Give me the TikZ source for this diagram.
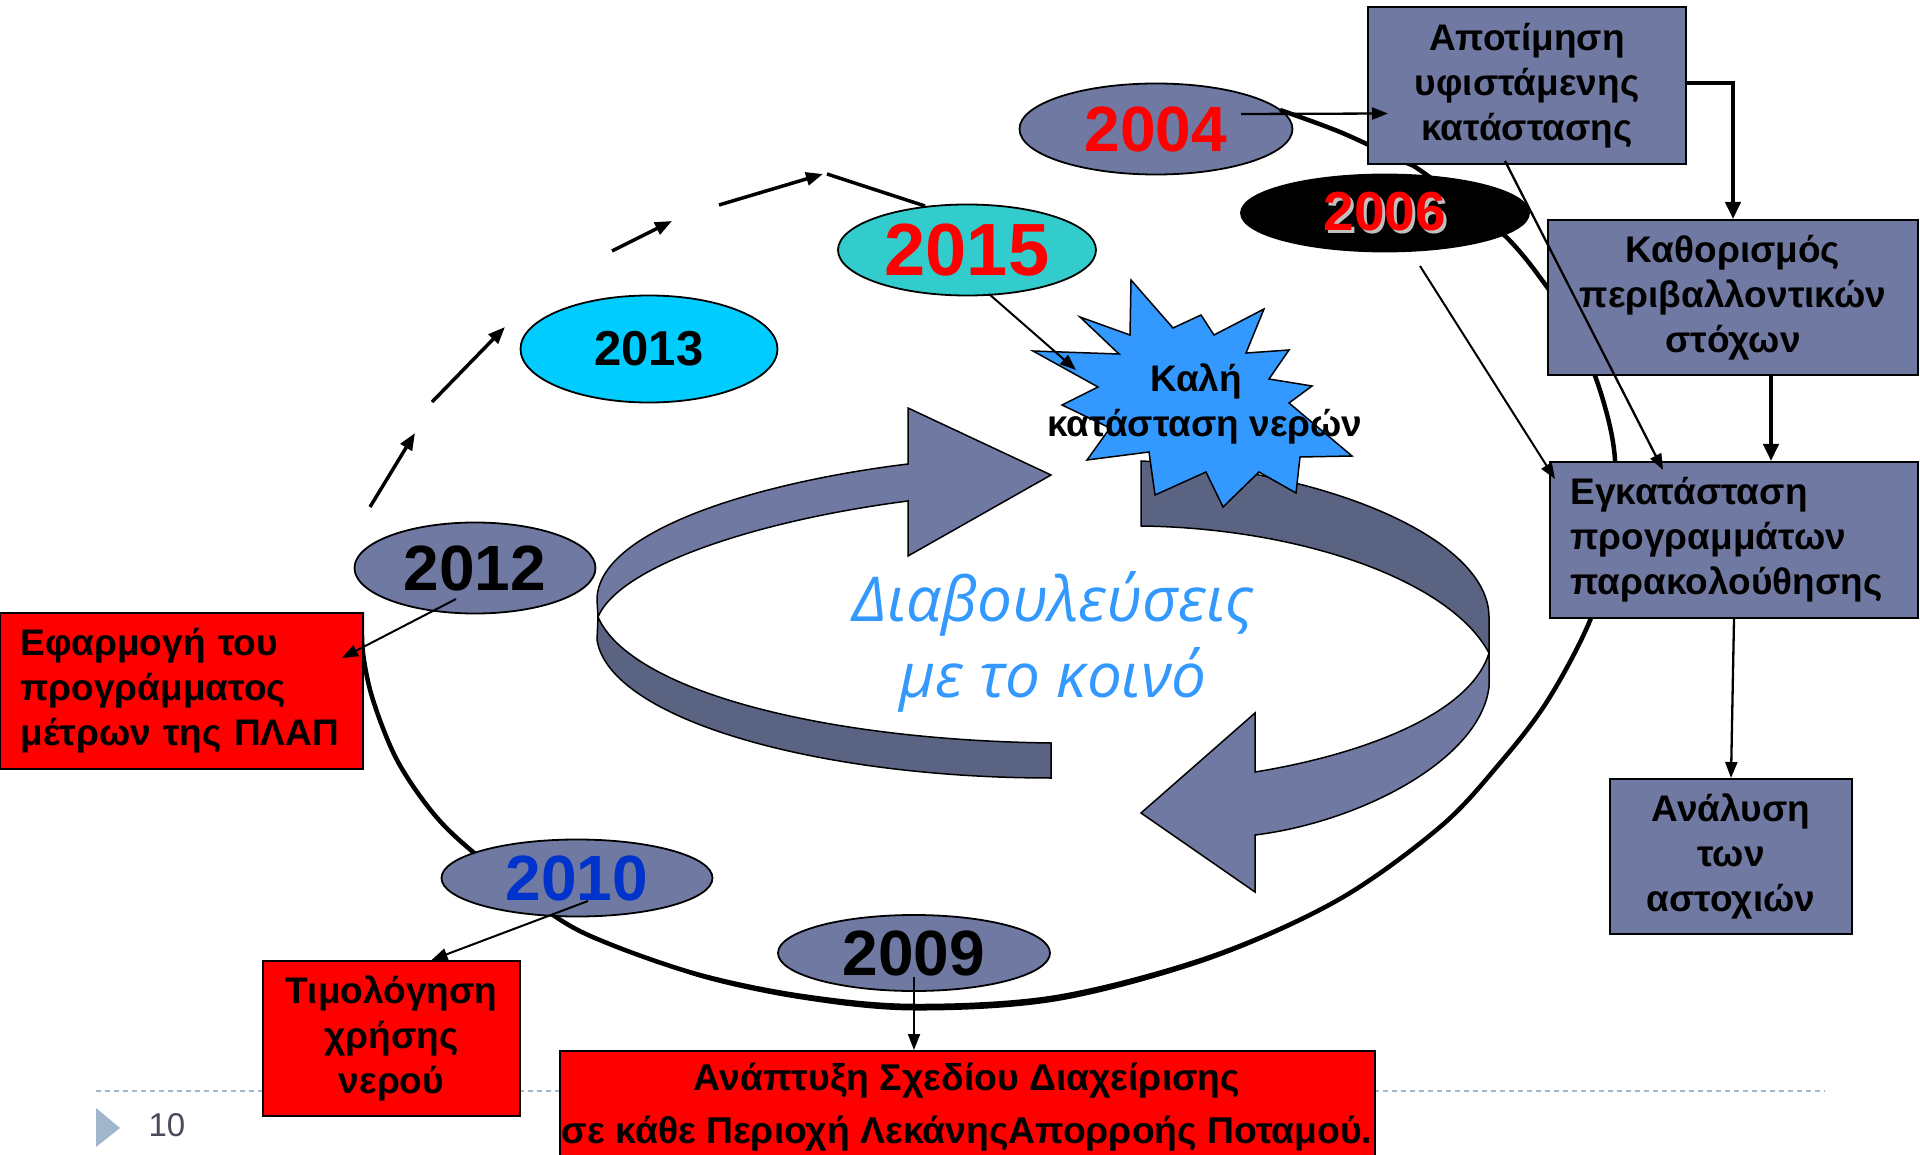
\documentclass[tikz,border=0pt]{standalone}
\usepackage{fontspec}
\setmainfont{Liberation Sans}
\newfontfamily\opensans{Open Sans}
\usetikzlibrary{arrows.meta,shapes.geometric}
\definecolor{slate}{RGB}{112,121,161}
\definecolor{slatedark}{RGB}{90,99,129}
\definecolor{tealc}{RGB}{51,204,204}
\definecolor{cyanc}{RGB}{0,204,255}
\definecolor{starblue}{RGB}{51,153,255}
\definecolor{yearblue}{RGB}{0,51,204}
\definecolor{footblue}{RGB}{160,182,204}
\definecolor{footgray}{RGB}{74,74,90}
\begin{document}
\begin{tikzpicture}[x=1pt,y=-1pt,
  gbox/.style={draw=black, line width=2pt, fill=slate, inner sep=0pt, align=center,
    font=\fontsize{37}{45}\selectfont\bfseries},
  yr/.style={ellipse, draw=black, line width=1.8pt, inner sep=0pt,
    font=\fontsize{64}{64}\selectfont\bfseries},
  conn/.style={-{Triangle[length=16pt,width=12pt]}, line width=2.3pt},
  thickconn/.style={-{Triangle[length=17pt,width=15pt]}, line width=4pt},
  uparr/.style={-{Triangle[length=17pt,width=13pt]}, line width=3.5pt},
  ribbon/.style={draw=black, line width=1.5pt}]
\useasboundingbox (0,0) rectangle (1920,1155);
\fill[white] (0,0) rectangle (1920,1155);

% footer
\draw[footblue, line width=2.5pt, dash pattern=on 5pt off 4pt] (96,1091) -- (1825,1091);
\fill[footblue] (96,1108) -- (120,1128) -- (96,1147) -- cycle;
\node[font=\fontsize{33}{33}\selectfont, text=footgray] (pg) at (167,1125) {10};

% big circular arrow A (upper, pointing right)
\draw[ribbon, fill=slatedark] (598,617) .. controls (630,690) and (820,740) .. (1051,743)
  -- (1051,778) .. controls (820,778) and (610,720) .. (597,640) -- cycle;
\draw[ribbon, fill=slate] (908,464) .. controls (760,482) and (597,530) .. (597,600)
  -- (598,617) .. controls (620,565) and (760,520) .. (908,501)
  -- (908,556) -- (1051,475) -- (908,408) -- cycle;
% big circular arrow B (lower, pointing left)
\draw[ribbon, fill=slatedark] (1141,461) .. controls (1330,470) and (1489,540) .. (1489,617)
  -- (1489,653) .. controls (1450,580) and (1300,528) .. (1141,526) -- cycle;
\draw[ribbon, fill=slate] (1489,653) -- (1489,687) .. controls (1480,760) and (1360,822) .. (1255,835)
  -- (1255,892) -- (1141,813) -- (1255,713) -- (1255,772)
  .. controls (1360,755) and (1470,715) .. (1489,653) -- cycle;

\node[font=\opensans\itshape\fontsize{62}{76}\selectfont, text=starblue, align=center] (dia)
  at (1053,642) {Διαβουλεύσεις\\με το κοινό};

% chain of arrows from 2012 towards 2015
\coordinate (u1a) at (370,507); \coordinate (u1b) at (415,433);
\coordinate (u2a) at (432,402); \coordinate (u2b) at (505,327);
\coordinate (u3a) at (612,251); \coordinate (u3b) at (672,221);
\coordinate (u4a) at (719,205); \coordinate (u4b) at (823,174);
\coordinate (u5a) at (827,174); \coordinate (u5b) at (925,206);
\draw[uparr] (u1a) -- (u1b);
\draw[uparr] (u2a) -- (u2b);
\draw[uparr] (u3a) -- (u3b);
\draw[uparr] (u4a) -- (u4b);
\draw[line width=3.5pt] (u5a) -- (u5b);

% ellipses under the loop
\node[yr, fill=cyanc, minimum width=257pt, minimum height=107pt,
  font=\fontsize{49}{49}\selectfont\bfseries] (e2013) at (649,349) {2013};
\node[yr, fill=tealc, minimum width=258pt, minimum height=91pt, text=red,
  font=\fontsize{74}{74}\selectfont\bfseries] (e2015) at (967,250) {2015};
\node[yr, fill=slate, minimum width=241pt, minimum height=91pt] (e2012) at (475,568) {2012};
\node[yr, fill=slate, minimum width=273pt, minimum height=91pt, text=red] (e2004) at (1156,129) {2004};

% the thick loop
\draw[line width=4.5pt] plot[smooth, tension=0.55] coordinates {(1280,110) (1340,132) (1400,160) (1424,173)
  (1502,233) (1547,287) (1580,340) (1603,400) (1615,460) (1612,540) (1591,618) (1548,700)
  (1500,763) (1440,827) (1338,900) (1210,957) (1057,997) (914,1006) (802,996) (700,975)
  (607,943) (553,915) (473,852) (433,813) (397,760) (373,700) (363,653) (362,613)};
\fill plot[smooth, tension=0.55] coordinates {(1440,827) (1338,900) (1210,957) (1057,997) (914,1006) (802,996) (700,975) (607,943)}
  -- plot[smooth, tension=0.55] coordinates {(607,943) (699.5,977.5) (801.7,999.5) (914,1010.5) (1058,1001) (1211.3,959.7) (1339,901.3) (1440,827)} -- cycle;

% ellipses over the loop
\node[yr, fill=black, minimum width=288pt, minimum height=77pt,
  font=\fontsize{55}{55}\selectfont\bfseries] (e2006) at (1385,213)
  {\rlap{\hspace{3pt}\raisebox{-3pt}{\color{lightgray}2006}}\color{red}2006};
\node[yr, fill=slate, minimum width=271pt, minimum height=77pt, text=yearblue] (e2010) at (577,878) {2010};
\node[yr, fill=slate, minimum width=272pt, minimum height=76pt] (e2009) at (914,953) {2009};

% boxes
\node[gbox, minimum width=318pt, minimum height=157pt] (b1) at (1527,85.5)
  {Αποτίμηση\\υφιστάμενης\\κατάστασης};
\node[gbox, minimum width=370pt, minimum height=155pt] (b2) at (1733,297.5)
  {Καθορισμός\\περιβαλλοντικών\\στόχων};
\node[gbox, minimum width=368pt, minimum height=156pt, text width=327pt, align=left, inner xsep=20pt]
  (b3) at (1734,540) {Εγκατάσταση\\προγραμμάτων\\παρακολούθησης};
\node[gbox, minimum width=242pt, minimum height=155pt] (b4) at (1731,856.5)
  {Ανάλυση\\των\\αστοχιών};
\node[gbox, fill=red, minimum width=363pt, minimum height=156pt, text width=322pt, align=left, inner xsep=20pt]
  (bEf) at (181.5,691) {Εφαρμογή του\\προγράμματος\\μέτρων της ΠΛΑΠ};
\node[gbox, fill=red, minimum width=257pt, minimum height=155pt] (bTim) at (391.5,1038.5)
  {Τιμολόγηση\\χρήσης\\νερού};
\node[gbox, fill=red, minimum width=815pt, minimum height=112pt,
  font=\fontsize{37.3}{53}\selectfont\bfseries] (bAn) at (967,1107)
  {Ανάπτυξη Σχεδίου Διαχείρισης\\σε κάθε Περιοχή ΛεκάνηςΑπορροής Ποταμού.};

% star
\draw[fill=starblue, line width=1.5pt] (1131,280) -- (1173,328) -- (1201,315) -- (1214,335)
  -- (1264,309) -- (1246,353) -- (1289,350) -- (1269,379) -- (1312,386) -- (1289,403)
  -- (1352,456) -- (1300,457) -- (1296,493) -- (1259,472) -- (1223,507) -- (1206,472)
  -- (1155,495) -- (1149,452) -- (1087,460) -- (1110,428) -- (1062,405) -- (1098,387)
  -- (1033,351) -- (1119,354) -- (1080,317) -- (1130,335) -- cycle;
\node[font=\fontsize{37}{45}\selectfont\bfseries, align=center] (star) at (1205,404)
  {\hspace*{-18pt}Καλή\\κατάσταση νερών};

% connectors
\draw[conn] ([shift={(85,-15)}]e2004.center) -- ([shift={(21,28)}]b1.west);
\draw[thickconn] ([shift={(0,-2)}]b1.east) -| (b2.north);
\draw[conn] ([shift={(-22,-4)}]b1.south) -- ([shift={(-71,9)}]b3.north);
\draw[conn, line width=2pt] ([shift={(35,53)}]e2006.center) -- ([shift={(6,18)}]b3.north west);
\draw[thickconn] ([shift={(38,0)}]b2.south) -- ([shift={(37,0)}]b3.north);
\draw[conn] (b3.south) -- (b4.north);
\draw[conn, line width=2pt] ([shift={(22,44)}]e2015.center) -- ([shift={(-129,-34)}]star.center);
\draw[conn, line width=2pt] ([shift={(-19,31)}]e2012.center) -- ([shift={(-22,-33)}]bEf.east);
\draw[conn, line width=2pt] ([shift={(11,23)}]e2010.center) -- ([shift={(40,0)}]bTim.north);
\draw[conn, line width=2pt] ([shift={(0,24)}]e2009.center) -- ([shift={(-53,0)}]bAn.north);
\end{tikzpicture}
\end{document}
